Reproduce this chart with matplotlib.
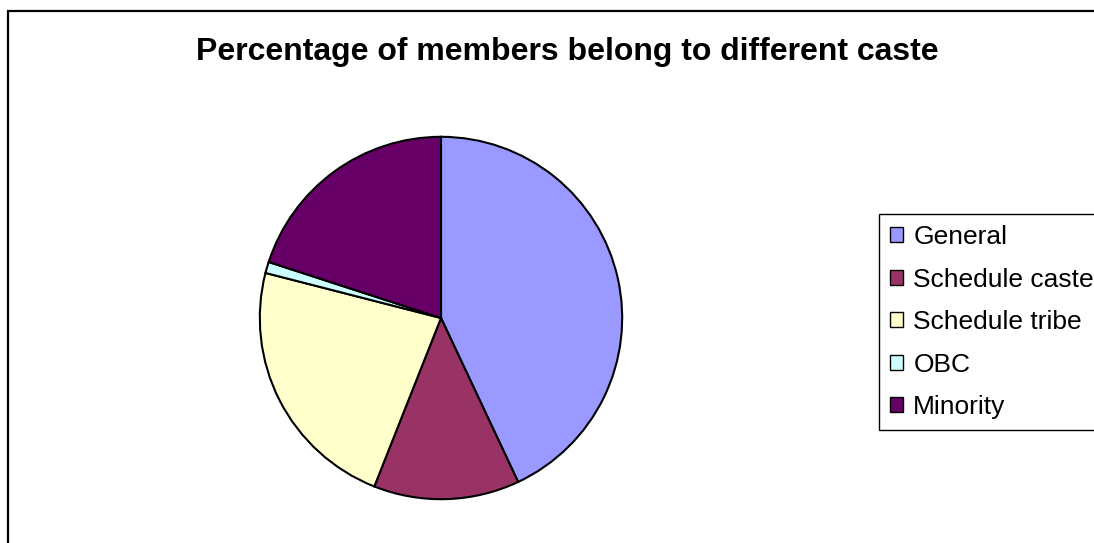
import matplotlib.pyplot as plt
from matplotlib.patches import Rectangle, Patch

plt.rcParams['font.family'] = ['Liberation Sans', 'DejaVu Sans']

labels = ['General', 'Schedule caste', 'Schedule tribe', 'OBC', 'Minority']
values = [43, 13, 23, 1, 20]
colors = ['#9999FF', '#993366', '#FFFFCC', '#CCFFFF', '#660066']

W, H = 1094, 543
fig = plt.figure(figsize=(W / 100, H / 100), dpi=100)

# outer chart border (right and bottom are cut off in the reference)
fig.add_artist(Rectangle((8 / W, -0.1), 1.2, 1 - 11 / H + 0.1, transform=fig.transFigure,
                         fill=False, edgecolor='black', linewidth=1.6))

fig.text(567 / W, 1 - 52 / H, 'Percentage of members belong to different caste',
         ha='center', va='center', fontsize=23, fontweight='bold')

# pie: centre (441, 318), radius 183 px
ax = fig.add_axes([258 / W, 1 - 501 / H, 366 / W, 366 / H])
ax.pie(values, colors=colors, startangle=90, counterclock=False,
       wedgeprops=dict(edgecolor='black', linewidth=1.5))
ax.set_xlim(-1.01, 1.01)
ax.set_ylim(-1.01, 1.01)
ax.axis('off')

handles = [Patch(facecolor=c, edgecolor='black', linewidth=1.0) for c in colors]
leg = fig.legend(handles, labels, loc='upper left', bbox_to_anchor=(879 / W, 1 - 214 / H),
                 fontsize=19, frameon=True, fancybox=False, framealpha=1,
                 edgecolor='black', handlelength=0.5, handleheight=0.5,
                 handletextpad=0.38, labelspacing=0.70, borderpad=0.42, borderaxespad=0)
leg.get_frame().set_linewidth(1.0)

fig.savefig('out.png', dpi=100)
